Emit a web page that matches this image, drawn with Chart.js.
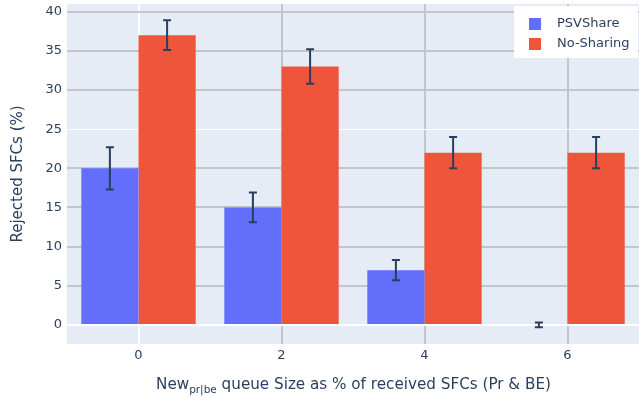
<!DOCTYPE html>
<html>
<head>
<meta charset="utf-8">
<script src="https://cdn.jsdelivr.net/npm/chart.js@4.4.1/dist/chart.umd.min.js"></script>
<style>
  html, body { margin: 0; padding: 0; background: #fff; }
  #wrap { width: 639px; height: 397px; }
</style>
</head>
<body>
<div id="wrap"><canvas id="chart" width="639" height="397"></canvas></div>
<script>
// queue size (% of received SFCs)
const categories = ['0', '2', '4', '6'];
const psvShare = [20, 15, 7, 0];
const psvShareErr = [2.7, 1.9, 1.3, 0.3];
const noSharing = [37, 33, 22, 22];
const noSharingErr = [1.9, 2.2, 2.0, 2.0];
const yTicks = [0, 5, 10, 15, 20, 25, 30, 35, 40];

const FONT = '"DejaVu Sans", Verdana, sans-serif';
const TEXT = '#2a3f5f';
const GRID = '#c3c5c9';

// 误差线
const errorBars = {
    id: 'errorBars',
    afterDatasetsDraw(chart) {
        const { ctx, scales: { y } } = chart;
        ctx.save();
        ctx.strokeStyle = TEXT;
        ctx.lineWidth = 2;
        chart.data.datasets.forEach((ds, i) => {
            chart.getDatasetMeta(i).data.forEach((bar, j) => {
                const v = ds.data[j], e = ds.errors[j];
                const top = y.getPixelForValue(v + e);
                const bot = y.getPixelForValue(v - e);
                ctx.beginPath();
                ctx.moveTo(bar.x, top); ctx.lineTo(bar.x, bot);
                ctx.moveTo(bar.x - 4, top); ctx.lineTo(bar.x + 4, top);
                ctx.moveTo(bar.x - 4, bot); ctx.lineTo(bar.x + 4, bot);
                ctx.stroke();
            });
        });
        ctx.restore();
    }
};

// 图例和坐标轴标题
const decorations = {
    id: 'decorations',
    beforeDraw(chart) {
        const { ctx, chartArea: a } = chart;
        ctx.save();
        ctx.fillStyle = '#e5ecf6';
        ctx.fillRect(a.left, a.top, a.right - a.left, a.bottom - a.top);
        ctx.restore();
    },
    afterDraw(chart) {
        const { ctx, chartArea: a } = chart;
        ctx.save();
        // legend
        ctx.fillStyle = '#fff';
        ctx.fillRect(514, 6, 124, 52);
        ctx.font = '13px ' + FONT;
        ctx.textBaseline = 'middle';
        chart.data.datasets.forEach((ds, i) => {
            const cy = 24 + i * 20;
            ctx.fillStyle = ds.backgroundColor;
            ctx.fillRect(529, cy - 6, 12, 12);
            ctx.fillStyle = TEXT;
            ctx.fillText(ds.label, 557, cy);
        });
        // y title
        ctx.font = '15px ' + FONT;
        ctx.fillStyle = TEXT;
        ctx.textAlign = 'center';
        ctx.save();
        ctx.translate(18, (a.top + a.bottom) / 2);
        ctx.rotate(-Math.PI / 2);
        ctx.fillText('Rejected SFCs (%)', 0, 0);
        ctx.restore();
        // x title with subscript
        const parts = [['New', '15.2px', 0], ['pr|be', '10.5px', 4], [' queue Size as % of received SFCs (Pr & BE)', '15.2px', 0]];
        let w = 0;
        parts.forEach(p => { ctx.font = p[1] + ' ' + FONT; w += ctx.measureText(p[0]).width; });
        let x = 353.5 - w / 2;
        ctx.textAlign = 'left';
        ctx.textBaseline = 'alphabetic';
        parts.forEach(p => {
            ctx.font = p[1] + ' ' + FONT;
            ctx.fillText(p[0], x, 389 + p[2]);
            x += ctx.measureText(p[0]).width;
        });
        ctx.restore();
    }
};

new Chart(document.getElementById('chart'), {
    type: 'bar',
    data: {
        labels: categories,
        datasets: [
            { label: 'PSVShare', data: psvShare, errors: psvShareErr, backgroundColor: '#636efa' },
            { label: 'No-Sharing', data: noSharing, errors: noSharingErr, backgroundColor: '#ef553b' }
        ]
    },
    options: {
        responsive: false,
        animation: false,
        layout: { padding: { top: 4, left: 0, right: 0, bottom: 0 } },
        categoryPercentage: 0.8,
        barPercentage: 1.0,
        plugins: { legend: { display: false }, tooltip: { enabled: false } },
        scales: {
            x: {
                offset: true,
                grid: {
                    offset: false,
                    drawTicks: false,
                    color: ctx => ctx.index === 0 ? '#ffffff' : GRID,
                    lineWidth: 2
                },
                border: { display: false },
                ticks: { color: TEXT, font: { family: FONT, size: 13 }, padding: 4 },
                afterFit: s => { s.height = 53; s.paddingLeft = 0; s.paddingRight = 0; }
            },
            y: {
                min: -2.43,
                max: 40.98,
                afterBuildTicks: s => { s.ticks = yTicks.map(v => ({ value: v })); },
                grid: {
                    drawTicks: false,
                    color: ctx => (ctx.tick && (ctx.tick.value === 0 || ctx.tick.value === 25)) ? '#ffffff' : GRID,
                    lineWidth: ctx => (ctx.tick && ctx.tick.value === 25) ? 1 : 2
                },
                border: { display: false },
                ticks: { color: TEXT, font: { family: FONT, size: 13 }, padding: 5 },
                afterFit: s => { s.width = 67; s.paddingTop = 0; s.paddingBottom = 0; }
            }
        }
    },
    plugins: [decorations, errorBars]
});
</script>
</body>
</html>
